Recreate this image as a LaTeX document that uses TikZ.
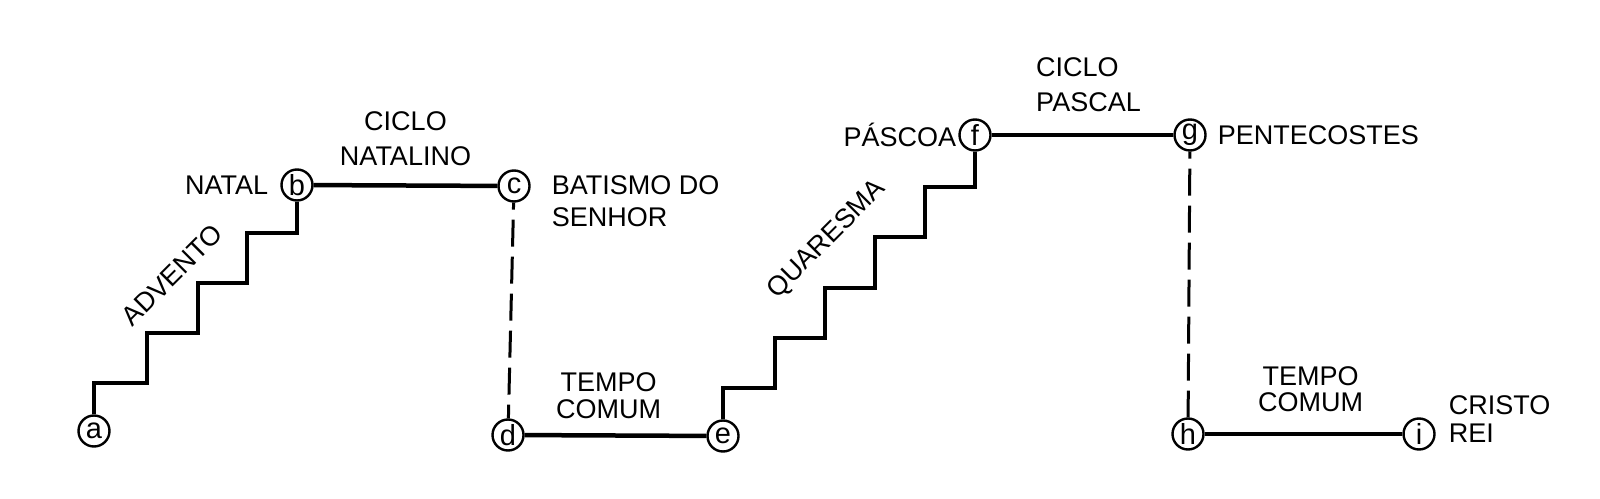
\documentclass[tikz,border=0pt]{standalone}
\usepackage{fontspec}
\setmainfont{Liberation Sans}
\usetikzlibrary{positioning}

\begin{document}
\begin{tikzpicture}[x=1pt,y=1pt,
    point/.style={circle,draw,line width=2.4pt,minimum size=31pt,inner sep=0pt,
      font=\fontsize{29}{29}\selectfont},
    track/.style={line width=4.5pt},
    link/.style={line width=3pt,dash pattern=on 27pt off 10pt,dash phase=20pt},
    lbl/.style={inner sep=0pt,font=\fontsize{27}{30}\selectfont}]
  \useasboundingbox (0,0) rectangle (1600,498);
  % marcos do ano
  \node[point] (a) at (94,67) {a};
  \node[point] (b) at (297,313) {b};
  \node[point] (c) at (514,312) {c};
  \node[point] (d) at (508,63) {d};
  \node[point] (e) at (723,62) {e};
  \node[point] (f) at (975,363) {f};
  \node[point] (g) at (1190,363) {g};
  \node[point] (h) at (1188,64) {h};
  \node[point] (i) at (1419,64) {i};
  % escadas
  \draw[track] (a.north) -- (94,115) -| (147,165) -| (198,215) -| (247,265) -| (b.south);
  \draw[track] (e.north) -- (723,110) -| (775,160) -| (825,210) -| (875,261) -| (925,311) -| (f.south);
  \node[lbl,rotate=45] (advento) at (172,223) {ADVENTO};
  \node[lbl,rotate=45] (quaresma) at (827,258) {QUARESMA};
  % ciclos
  \draw[track] (b) -- node[lbl,above=17pt,align=center] (natalino) {CICLO\\[5pt]NATALINO} (c);
  \draw[track] (d) -- node[lbl,above=14pt,xshift=-7pt,align=center] (comum1) {TEMPO\\[-3pt]COMUM} (e);
  \draw[track] (f) -- node[lbl,above=21pt,xshift=6pt,align=left] (pascal) {CICLO\\[5pt]PASCAL} (g);
  \draw[track] (h) -- node[lbl,above=20pt,xshift=7pt,align=center] (comum2) {TEMPO\\[-4pt]COMUM} (i);
  \draw[link] (c) -- (d);
  \draw[link] (g) -- (h);
  % festas
  \node[lbl,left=12pt of b] (natal) {NATAL};
  \node[lbl,right=21pt of c,yshift=-15pt,align=left] (batismo) {BATISMO DO\\[2pt]SENHOR};
  \node[lbl,left=2pt of f] (pascoa) {PÁSCOA};
  \node[lbl,right=11pt of g] (pentecostes) {PENTECOSTES};
  \node[lbl,right=13pt of i,yshift=15pt,align=left] (cristo) {CRISTO\\[-2pt]REI};
\end{tikzpicture}
\end{document}
